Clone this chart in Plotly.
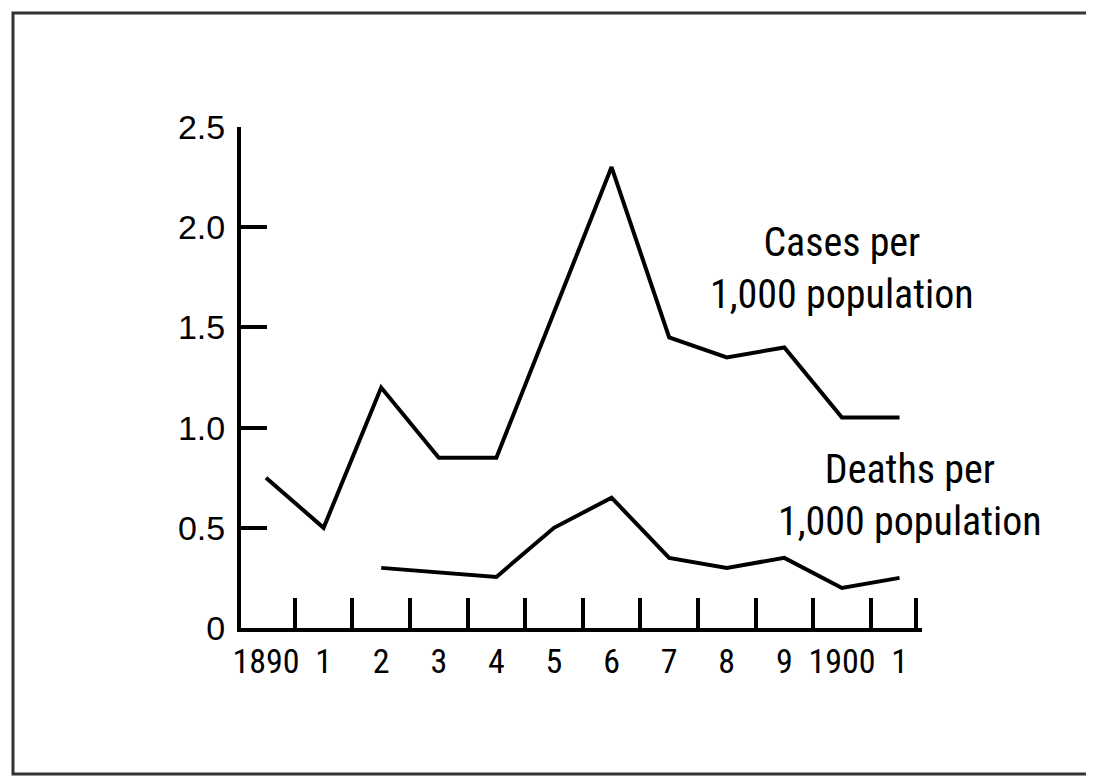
import plotly.graph_objects as go

years = [1890, 1891, 1892, 1893, 1894, 1895, 1896, 1897, 1898, 1899, 1900, 1901]
year_labels = ["1890", "1", "2", "3", "4", "5", "6", "7", "8", "9", "1900", "1"]
cases = [0.75, 0.50, 1.20, 0.85, 0.85, 1.57, 2.30, 1.45, 1.35, 1.40, 1.05, 1.05]
death_years = [1892, 1893, 1894, 1895, 1896, 1897, 1898, 1899, 1900, 1901]
deaths = [0.30, 0.28, 0.255, 0.50, 0.65, 0.35, 0.30, 0.35, 0.20, 0.25]
x_tick_marks = [1890.5, 1891.5, 1892.5, 1893.5, 1894.5, 1895.5, 1896.5, 1897.5,
                1898.5, 1899.5, 1900.5, 1901.28]
y_ticks = [0, 0.5, 1.0, 1.5, 2.0, 2.5]
y_tick_labels = ["0", "0.5", "1.0", "1.5", "2.0", "2.5"]

NARROW = "Liberation Sans Narrow, Roboto Condensed, DejaVu Sans Condensed, Arial Narrow, sans-serif"
SANS = "Liberation Sans, Arial, Helvetica, sans-serif"

fig = go.Figure()
fig.add_trace(go.Scatter(x=years, y=cases, mode="lines",
                         line=dict(color="black", width=4), showlegend=False,
                         hoverinfo="skip"))
fig.add_trace(go.Scatter(x=death_years, y=deaths, mode="lines",
                         line=dict(color="black", width=4), showlegend=False,
                         hoverinfo="skip"))

OFF = 8  # page body margin
W, H = 1094 - OFF, 779 - OFF
L, R, T, B = 241 - OFF, 922 - OFF, 127 - OFF, 628 - OFF

fig.update_layout(
    width=W, height=H,
    margin=dict(l=L, r=W - R, t=T, b=H - B, pad=0),
    paper_bgcolor="white", plot_bgcolor="white",
    xaxis=dict(range=[1889.566, 1901.39], showgrid=False, zeroline=False,
               showline=True, linecolor="black", linewidth=4,
               tickmode="array", tickvals=years, ticktext=year_labels,
               ticks="", tickfont=dict(family=NARROW, size=34, color="black"),
               minor=dict(tickmode="array", tickvals=x_tick_marks, ticks="inside",
                          ticklen=30, tickwidth=4, tickcolor="black", showgrid=False)),
    yaxis=dict(range=[0, 2.5], showgrid=False, zeroline=False,
               showline=True, linecolor="black", linewidth=4,
               tickmode="array", tickvals=y_ticks, ticktext=y_tick_labels,
               ticks="inside", ticklen=26, tickwidth=4, tickcolor="black",
               ticklabelstandoff=5,
               tickfont=dict(family=SANS, size=34, color="black")),
    font=dict(family=SANS, color="black"),
)

# outer frame
def px_to_paper_x(px):
    return (px - OFF - L) / (R - L)

def px_to_paper_y(py):
    return (B - (py - OFF)) / (B - T)

fig.add_shape(type="rect", xref="paper", yref="paper",
              x0=px_to_paper_x(13), x1=px_to_paper_x(1089),
              y0=px_to_paper_y(774), y1=px_to_paper_y(13),
              line=dict(color="#333333", width=3), fillcolor="rgba(0,0,0,0)",
              layer="below")

labels = [
    ("Cases per<br>1,000 population", 1900.0, 1.795),
    ("Deaths per<br>1,000 population", 1901.18, 0.66),
]
for txt, lx, ly in labels:
    fig.add_annotation(x=lx, y=ly, xref="x", yref="y", text=txt, showarrow=False,
                       xanchor="center", yanchor="middle", align="center",
                       font=dict(family=NARROW, size=40, color="black"))

fig.write_html("out.html")
